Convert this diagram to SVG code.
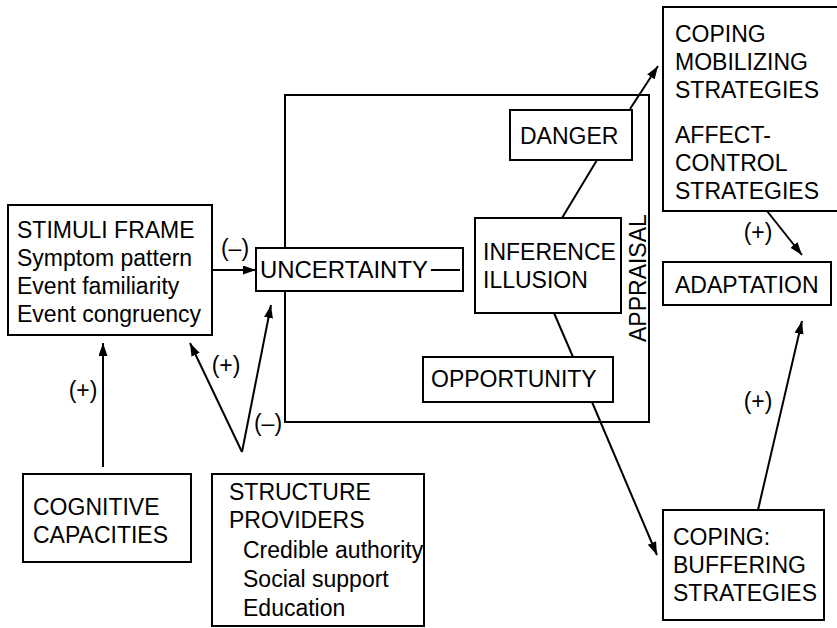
<svg xmlns="http://www.w3.org/2000/svg" width="837" height="628" viewBox="0 0 837 628">
<style>
.box{fill:#fff;stroke:#000;stroke-width:2}
.frame{fill:none;stroke:#000;stroke-width:2}
.ln{fill:none;stroke:#000;stroke-width:2}
text{font-family:"Liberation Sans",Arial,sans-serif;font-size:23px;fill:#000}
</style>
<defs>
<marker id="ah" markerUnits="userSpaceOnUse" markerWidth="14" markerHeight="10" refX="13" refY="4.5" orient="auto">
<path d="M0,0 L13,4.5 L0,9 z" fill="#000"/>
</marker>
</defs>
<g id="appraisal">
<rect class="frame" x="285" y="95" width="364" height="327"/>
<text transform="translate(646,342) rotate(-90)">APPRAISAL</text>
</g>
<g id="connectors">
<line class="ln" x1="212" y1="270" x2="256" y2="270" marker-end="url(#ah)"/>
<line class="ln" x1="103" y1="467" x2="103" y2="343" marker-end="url(#ah)"/>
<line class="ln" x1="242" y1="452" x2="190" y2="343" marker-end="url(#ah)"/>
<line class="ln" x1="242" y1="452" x2="271" y2="305" marker-end="url(#ah)"/>
<line class="ln" x1="597" y1="160" x2="562" y2="218"/>
<line class="ln" x1="554" y1="313" x2="573" y2="357"/>
<line class="ln" x1="630" y1="109" x2="658" y2="66" marker-end="url(#ah)"/>
<line class="ln" x1="592" y1="402" x2="657" y2="555" marker-end="url(#ah)"/>
<line class="ln" x1="767" y1="211" x2="802" y2="255" marker-end="url(#ah)"/>
<line class="ln" x1="758" y1="510" x2="802" y2="321" marker-end="url(#ah)"/>
<text x="235" y="256" text-anchor="middle">(–)</text>
<text x="83" y="398" text-anchor="middle">(+)</text>
<text x="226" y="373" text-anchor="middle">(+)</text>
<text x="268" y="431" text-anchor="middle">(–)</text>
<text x="758" y="240" text-anchor="middle">(+)</text>
<text x="758" y="409" text-anchor="middle">(+)</text>
</g>
<g id="stimuli">
<rect class="box" x="8" y="205" width="204" height="130"/>
<text x="17" y="238">STIMULI FRAME</text>
<text x="17" y="266">Symptom pattern</text>
<text x="17" y="294">Event familiarity</text>
<text x="17" y="322">Event congruency</text>
</g>
<g id="uncertainty">
<rect class="box" x="256" y="248" width="207" height="43"/>
<text x="260" y="278" textLength="168" lengthAdjust="spacingAndGlyphs">UNCERTAINTY</text>
<line class="ln" x1="431" y1="270" x2="460" y2="270"/>
</g>
<g id="danger">
<rect class="box" x="510" y="110" width="122" height="50"/>
<text x="520" y="144">DANGER</text>
</g>
<g id="inference">
<rect class="box" x="475" y="218" width="146" height="95"/>
<text x="483" y="260">INFERENCE</text>
<text x="483" y="288">ILLUSION</text>
</g>
<g id="opportunity">
<rect class="box" x="423" y="357" width="190" height="45"/>
<text x="431" y="387">OPPORTUNITY</text>
</g>
<g id="coping-mobilizing">
<rect class="box" x="663" y="7" width="180" height="204"/>
<text x="675" y="42">COPING</text>
<text x="675" y="70">MOBILIZING</text>
<text x="675" y="98">STRATEGIES</text>
<text x="675" y="143">AFFECT-</text>
<text x="675" y="171">CONTROL</text>
<text x="675" y="199">STRATEGIES</text>
</g>
<g id="adaptation">
<rect class="box" x="663" y="262" width="168" height="43"/>
<text x="675" y="293">ADAPTATION</text>
</g>
<g id="coping-buffering">
<rect class="box" x="663" y="510" width="161" height="110"/>
<text x="673" y="545">COPING:</text>
<text x="673" y="573">BUFFERING</text>
<text x="673" y="601">STRATEGIES</text>
</g>
<g id="cognitive">
<rect class="box" x="23" y="474" width="168" height="88"/>
<text x="33" y="515">COGNITIVE</text>
<text x="33" y="543">CAPACITIES</text>
</g>
<g id="structure">
<rect class="box" x="212" y="474" width="212" height="152"/>
<text x="229" y="500">STRUCTURE</text>
<text x="229" y="528">PROVIDERS</text>
<text x="243" y="558">Credible authority</text>
<text x="243" y="587">Social support</text>
<text x="243" y="616">Education</text>
</g>
</svg>
